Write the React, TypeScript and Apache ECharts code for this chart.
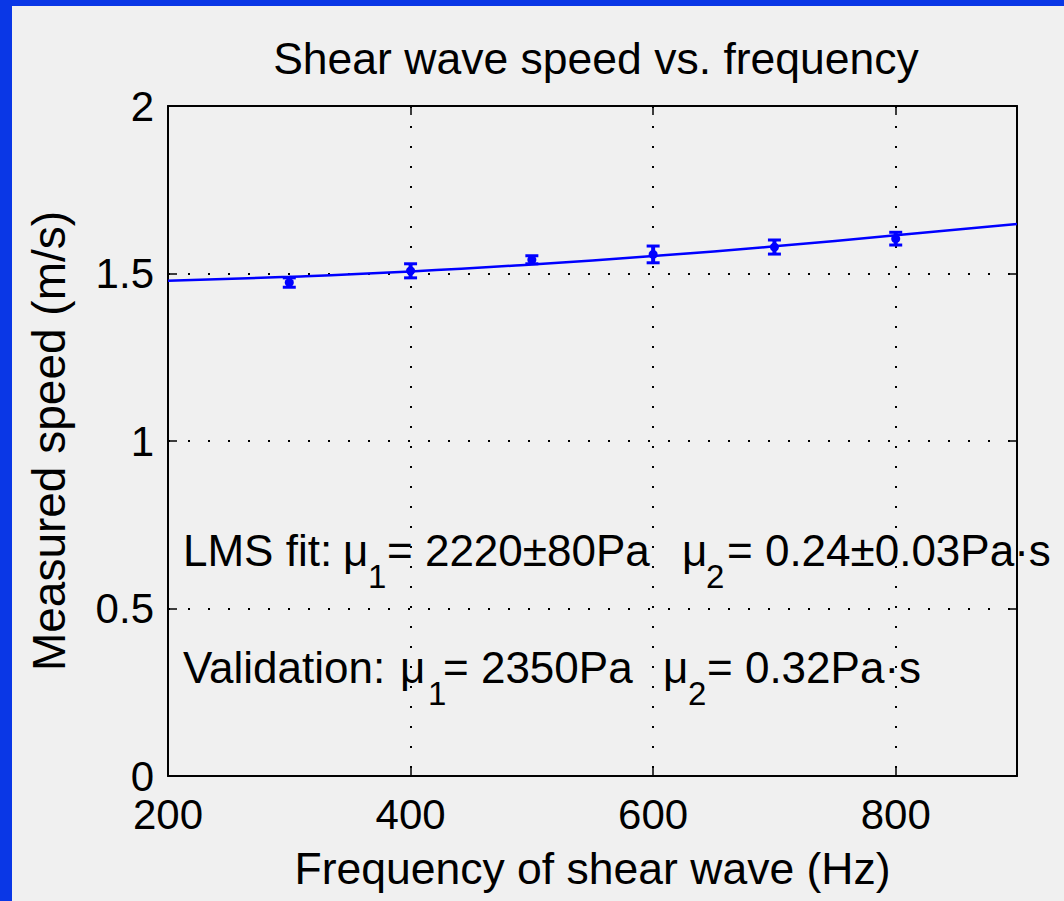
import React, { useEffect, useRef } from "react";
import * as echarts from "echarts";

const FONT = "'Liberation Sans', Arial, Helvetica, sans-serif";

// Measured points
const freqs = [300, 400, 500, 600, 700, 800];
const speeds = [1.473, 1.508, 1.541, 1.557, 1.579, 1.604];
const errors = [0.014, 0.021, 0.012, 0.025, 0.021, 0.019];

// LMS fit curve
const fitFreqs = [200, 300, 400, 500, 600, 700, 800, 900];
const fitSpeeds = [1.478, 1.49, 1.506, 1.527, 1.552, 1.581, 1.614, 1.648];

const xTicks = [200, 400, 600, 800];
const yTicks = [0, 0.5, 1, 1.5, 2];

const BLUE = "#0000ff";

export default function App() {
  const ref = useRef<HTMLDivElement>(null);

  useEffect(() => {
    if (!ref.current) return;
    const chart = echarts.init(ref.current, undefined, { renderer: "svg" });

    const errData = freqs.map((f, i) => [f, speeds[i] - errors[i], speeds[i] + errors[i], speeds[i]]);
    const fitData = fitFreqs.map((f, i) => [f, fitSpeeds[i]]);

    const gridDots = { color: "#000", width: 2, type: [2, 18] as any };
    const frameLine = { show: true, onZero: false, lineStyle: { color: "#000", width: 2 } };
    const tickStyle = { show: true, inside: true, length: 9, lineStyle: { color: "#000", width: 1.5 } };

    const mainText = { fontSize: 44, fontFamily: FONT, fill: "#000" };
    const subText = { fontSize: 33, fontFamily: FONT, fill: "#000" };
    const txt = (x: number, y: number, text: string, sub = false) => ({
      type: "text",
      x,
      y,
      z: 50,
      style: { ...(sub ? subText : mainText), text, textAlign: "left", textVerticalAlign: "middle" },
    });

    const line1 = 550;
    const line2 = 667;
    const sub1 = 576;
    const sub2 = 693;

    chart.setOption({
      animation: false,
      backgroundColor: "#f0f0f0",
      textStyle: { fontFamily: FONT },
      grid: { left: 168, right: 47, top: 106, bottom: 125, containLabel: false },
      xAxis: [
        {
          type: "value",
          min: 200,
          max: 900,
          interval: 200,
          position: "bottom",
          axisLine: frameLine,
          axisTick: tickStyle,
          axisLabel: {
            fontSize: 42,
            lineHeight: 24,
            color: "#000",
            fontFamily: FONT,
            margin: 26,
            formatter: (v: number) => (xTicks.includes(v) ? String(v) : ""),
          },
          splitLine: { show: true, lineStyle: gridDots },
          name: "Frequency of shear wave (Hz)",
          nameLocation: "middle",
          nameGap: 70,
          nameTextStyle: { fontSize: 44.5, color: "#000", fontFamily: FONT },
        },
        {
          type: "value",
          min: 200,
          max: 900,
          interval: 200,
          position: "top",
          axisLine: frameLine,
          axisTick: tickStyle,
          axisLabel: { show: false },
          splitLine: { show: false },
        },
      ],
      yAxis: [
        {
          type: "value",
          min: 0,
          max: 2,
          interval: 0.5,
          position: "left",
          axisLine: frameLine,
          axisTick: tickStyle,
          axisLabel: {
            fontSize: 42,
            lineHeight: 24,
            color: "#000",
            fontFamily: FONT,
            margin: 14,
            formatter: (v: number) => (yTicks.includes(v) ? String(v) : ""),
          },
          splitLine: { show: true, lineStyle: gridDots },
          name: "Measured speed (m/s)",
          nameLocation: "middle",
          nameGap: 96,
          nameTextStyle: { fontSize: 46, color: "#000", fontFamily: FONT },
        },
        {
          type: "value",
          min: 0,
          max: 2,
          interval: 0.5,
          position: "right",
          axisLine: frameLine,
          axisTick: tickStyle,
          axisLabel: { show: false },
          splitLine: { show: false },
        },
      ],
      series: [
        {
          type: "line",
          data: fitData,
          smooth: true,
          showSymbol: false,
          symbol: "none",
          lineStyle: { color: BLUE, width: 2.5 },
          xAxisIndex: 0,
          yAxisIndex: 0,
          z: 3,
        },
        {
          type: "custom",
          xAxisIndex: 0,
          yAxisIndex: 0,
          data: errData,
          z: 4,
          renderItem: (_params: any, api: any) => {
            const x = api.value(0);
            const pLo = api.coord([x, api.value(1)]);
            const pHi = api.coord([x, api.value(2)]);
            const pC = api.coord([x, api.value(3)]);
            const w = 6.5;
            return {
              type: "group",
              children: [
                { type: "line", shape: { x1: pLo[0], y1: pLo[1], x2: pHi[0], y2: pHi[1] }, style: { stroke: BLUE, lineWidth: 4 } },
                { type: "line", shape: { x1: pLo[0] - w, y1: pLo[1], x2: pLo[0] + w, y2: pLo[1] }, style: { stroke: BLUE, lineWidth: 3 } },
                { type: "line", shape: { x1: pHi[0] - w, y1: pHi[1], x2: pHi[0] + w, y2: pHi[1] }, style: { stroke: BLUE, lineWidth: 3 } },
                { type: "circle", shape: { cx: pC[0], cy: pC[1], r: 4.5 }, style: { fill: BLUE } },
              ],
            };
          },
        },
      ],
      graphic: [
        { type: "rect", left: 0, top: 0, shape: { x: 0, y: 0, width: 12, height: 901 }, style: { fill: "#0a37e6" }, z: 100 },
        { type: "rect", left: 0, top: 0, shape: { x: 0, y: 0, width: 1064, height: 6 }, style: { fill: "#0a37e6" }, z: 100 },
        {
          type: "text",
          x: 596,
          y: 58,
          style: { ...mainText, fontSize: 44.5, text: "Shear wave speed vs. frequency", textAlign: "center", textVerticalAlign: "middle" },
        },
        txt(183, line1, "LMS fit:"),
        txt(343, line1, "μ"),
        txt(368, sub1, "1", true),
        txt(387, line1, "= 2220±80Pa"),
        txt(682, line1, "μ"),
        txt(706, sub1, "2", true),
        txt(727, line1, "= 0.24±0.03Pa·s"),
        txt(183, line2, "Validation:"),
        txt(400, line2, "μ"),
        txt(428, sub2, "1", true),
        txt(443, line2, "= 2350Pa"),
        txt(663, line2, "μ"),
        txt(688, sub2, "2", true),
        txt(707, line2, "= 0.32Pa·s"),
      ],
    });

    return () => chart.dispose();
  }, []);

  return (
    <div
      ref={ref}
      style={{ position: "absolute", left: 0, top: 0, width: 1064, height: 901 }}
    />
  );
}
